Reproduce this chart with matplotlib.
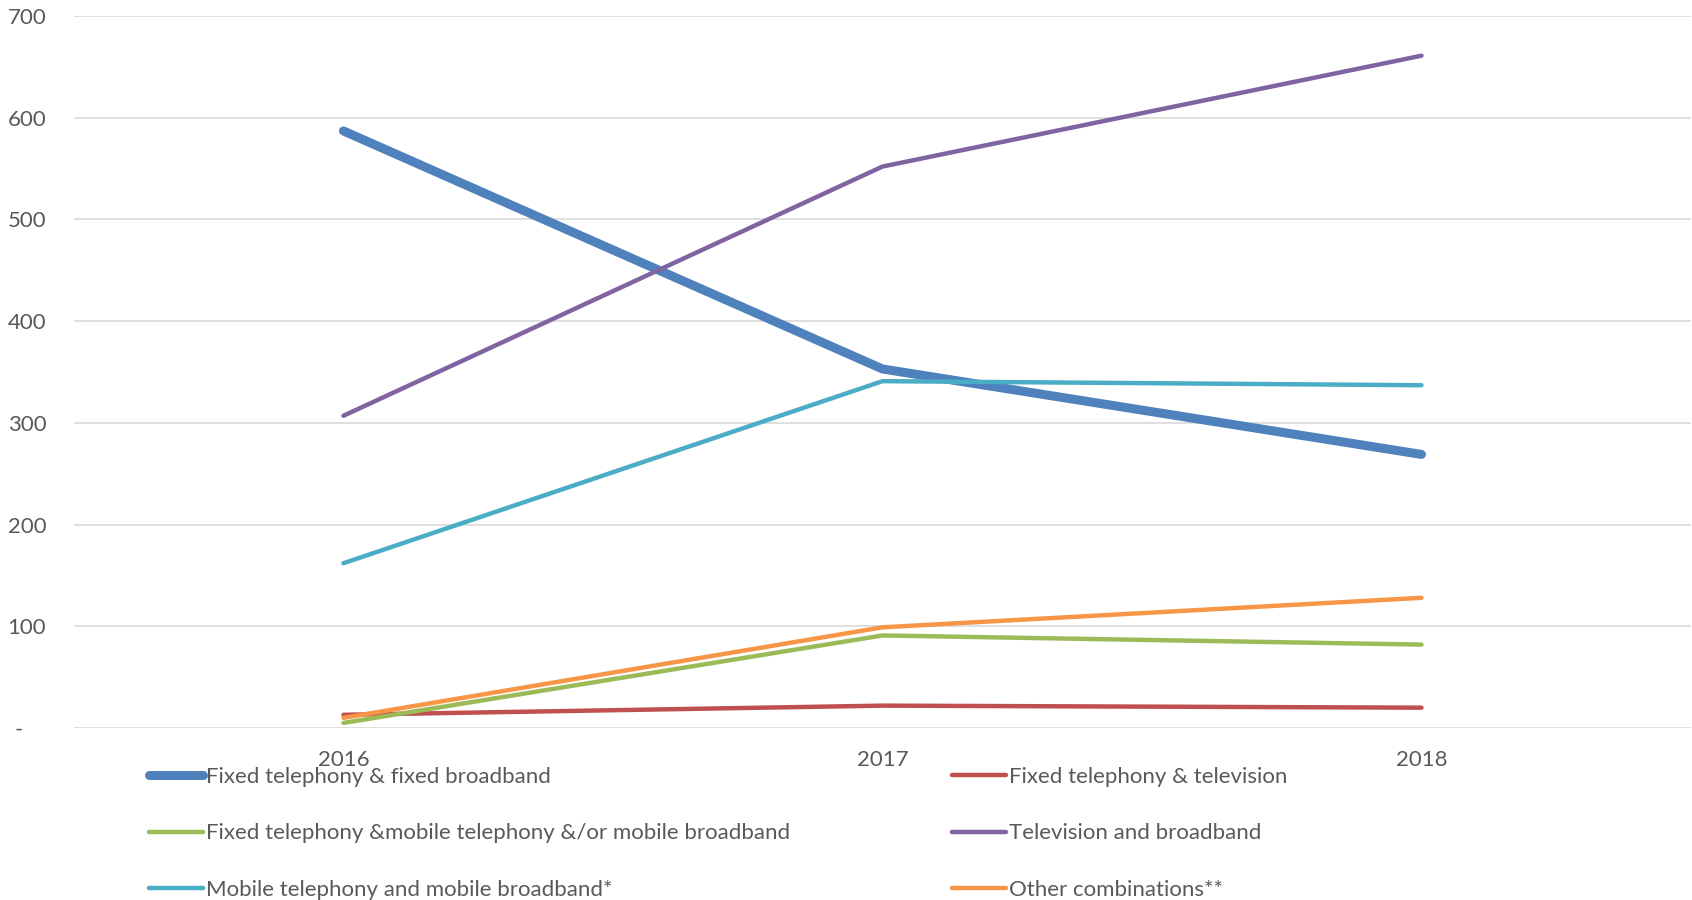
import matplotlib
matplotlib.use('Agg')
import matplotlib.pyplot as plt

years = ['2016', '2017', '2018']

fixed_tel_fixed_bb = [587, 353, 269]
fixed_tel_tv = [13, 22, 20]
fixed_mobile = [5, 91, 82]
tv_bb = [307, 552, 661]
mobile_tel_mobile_bb = [162, 341, 337]
other = [10, 99, 128]

labels = ['Fixed telephony & fixed broadband',
          'Fixed telephony & television',
          'Fixed telephony &mobile telephony &/or mobile broadband',
          'Television and broadband',
          'Mobile telephony and mobile broadband*',
          'Other combinations**']
colors = ['#4F81BD', '#C0504D', '#9BBB59', '#8064A2', '#4BACC6', '#F79646']
widths = [6.5, 3.2, 3.2, 3.2, 3.2, 3.2]

yticks = [0, 100, 200, 300, 400, 500, 600, 700]
ytick_labels = ['-    ', '100', '200', '300', '400', '500', '600', '700']

plt.rcParams['font.family'] = ['Lato', 'DejaVu Sans']

fig = plt.figure(figsize=(16.92, 9), dpi=100)
ax = fig.add_axes([0.0437, 0.1911, 0.9557, 0.7911])

series = [fixed_tel_fixed_bb, fixed_tel_tv, fixed_mobile, tv_bb, mobile_tel_mobile_bb, other]
x = list(range(len(years)))
handles = []
for s, c, w, lab in zip(series, colors, widths, labels):
    h, = ax.plot(x, s, color=c, lw=w, solid_capstyle='round', label=lab, zorder=3)
    handles.append(h)

ax.set_xlim(-0.5, 2.5)
ax.set_ylim(0, 700)
ax.set_xticks(x)
ax.set_xticklabels(years)
ax.set_yticks(yticks)
ax.set_yticklabels(ytick_labels)
ax.tick_params(axis='both', length=0, labelsize=16, colors='#595959')
ax.tick_params(axis='y', pad=20)
ax.tick_params(axis='x', pad=16)
ax.grid(axis='y', color='#D9D9D9', lw=1.2)
ax.set_axisbelow(True)
for sp in ax.spines.values():
    sp.set_visible(False)

# Excel legend: 2 columns, filled row by row
order = [0, 2, 4, 1, 3, 5]
leg = fig.legend([handles[i] for i in order], [labels[i] for i in order],
                 ncol=2, loc='upper left', bbox_to_anchor=(0.083, 0.158),
                 frameon=False, fontsize=16, handlelength=2.4, handletextpad=0.15,
                 columnspacing=7.3, labelspacing=1.65, borderaxespad=0)
for t in leg.get_texts():
    t.set_color('#595959')

fig.savefig('out.png', dpi=100)
